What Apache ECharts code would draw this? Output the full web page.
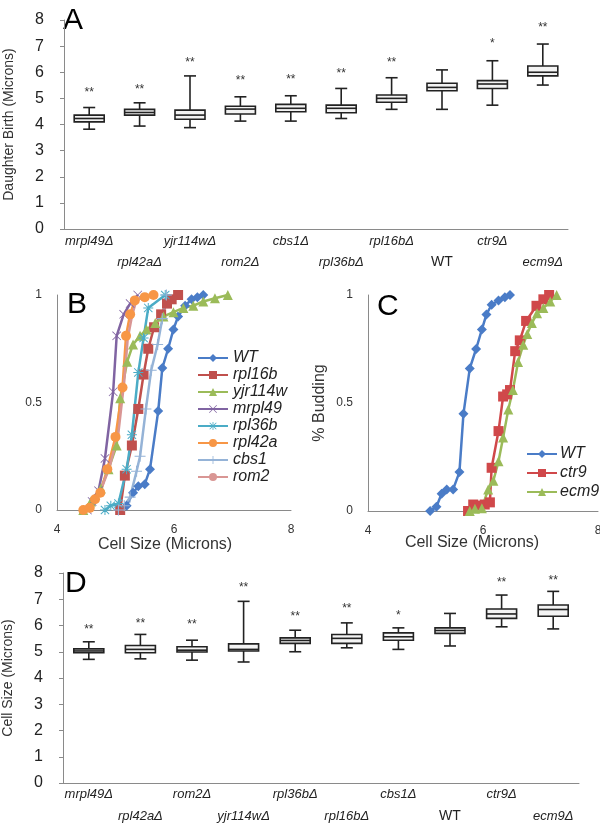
<!DOCTYPE html>
<html>
<head>
<meta charset="utf-8">
<script src="https://cdn.jsdelivr.net/npm/echarts@6/dist/echarts.min.js"></script>
<style>
  html, body { margin: 0; padding: 0; background: #fff; }
  #chart { width: 600px; height: 825px; }
</style>
</head>
<body>
<div id="chart"></div>
<script>
// --- PANEL A: daughter size at birth ---
const catsA = ["mrpl49Δ", "rpl42aΔ", "yjr114wΔ", "rom2Δ", "cbs1Δ", "rpl36bΔ", "rpl16bΔ", "WT", "ctr9Δ", "ecm9Δ"];
// [min, q1, median, q3, max]
const boxA = [
  [3.82, 4.10, 4.23, 4.36, 4.65],
  [3.94, 4.36, 4.46, 4.58, 4.83],
  [3.88, 4.20, 4.36, 4.55, 5.86],
  [4.13, 4.40, 4.59, 4.70, 5.06],
  [4.13, 4.49, 4.62, 4.77, 5.10],
  [4.23, 4.45, 4.62, 4.74, 5.38],
  [4.58, 4.85, 5.00, 5.13, 5.79],
  [4.58, 5.29, 5.42, 5.58, 6.09],
  [4.74, 5.38, 5.55, 5.68, 6.44],
  [5.51, 5.86, 6.00, 6.24, 7.08]
];
const starsA = ["**", "**", "**", "**", "**", "**", "**", "", "*", "**"];
const starYA = [5.20, 5.35, 6.37, 5.68, 5.70, 5.94, 6.37, 0, 7.08, 7.69];

// --- PANEL D: cell size at budding ---
const catsD = ["mrpl49Δ", "rpl42aΔ", "rom2Δ", "yjr114wΔ", "rpl36bΔ", "rpl16bΔ", "cbs1Δ", "WT", "ctr9Δ", "ecm9Δ"];
const boxD = [
  [4.71, 4.96, 5.03, 5.11, 5.38],
  [4.73, 4.96, 5.09, 5.24, 5.66],
  [4.68, 4.99, 5.06, 5.19, 5.44],
  [4.61, 5.03, 5.09, 5.30, 6.92],
  [5.00, 5.32, 5.43, 5.53, 5.82],
  [5.15, 5.32, 5.51, 5.66, 6.10],
  [5.09, 5.44, 5.57, 5.72, 5.91],
  [5.22, 5.70, 5.81, 5.91, 6.46],
  [5.95, 6.27, 6.44, 6.63, 7.16],
  [5.87, 6.35, 6.61, 6.78, 7.30]
];
const starsD = ["**", "**", "**", "**", "**", "**", "*", "", "**", "**"];
const starYD = [5.85, 6.08, 6.05, 7.43, 6.35, 6.63, 6.38, 0, 7.62, 7.72];

// --- PANEL B: cumulative budding vs size [size, fraction] ---
const bWT = [[5.08, 0], [5.19, 0.02], [5.30, 0.08], [5.39, 0.11], [5.50, 0.12], [5.59, 0.19], [5.73, 0.46], [5.80, 0.66], [5.90, 0.75], [5.99, 0.84], [6.07, 0.90], [6.19, 0.95], [6.30, 0.98], [6.40, 0.99], [6.50, 1.0]];
const bRpl16b = [[5.08, 0], [5.16, 0.16], [5.28, 0.30], [5.39, 0.47], [5.48, 0.63], [5.56, 0.75], [5.66, 0.85], [5.78, 0.91], [5.88, 0.96], [5.96, 0.98], [6.07, 1.0]];
const bYjr114w = [[4.45, 0], [4.58, 0.04], [4.75, 0.10], [4.88, 0.19], [5.02, 0.30], [5.08, 0.52], [5.20, 0.69], [5.30, 0.77], [5.42, 0.81], [5.53, 0.84], [5.68, 0.87], [5.82, 0.90], [5.99, 0.92], [6.16, 0.94], [6.33, 0.95], [6.50, 0.97], [6.70, 0.985], [6.92, 1.0]];
const bMrpl49 = [[4.52, 0], [4.60, 0.04], [4.71, 0.09], [4.82, 0.24], [4.96, 0.55], [5.02, 0.81], [5.14, 0.91], [5.25, 0.96], [5.38, 1.0]];
const bRpl36b = [[4.82, 0], [4.92, 0.02], [5.05, 0.03], [5.19, 0.19], [5.28, 0.35], [5.39, 0.64], [5.48, 0.80], [5.56, 0.94], [5.85, 1.0]];
const bRpl42a = [[4.45, 0], [4.56, 0.01], [4.65, 0.05], [4.74, 0.08], [4.86, 0.19], [5.00, 0.34], [5.12, 0.57], [5.18, 0.81], [5.25, 0.91], [5.33, 0.975], [5.50, 0.99], [5.65, 1.0]];
const bCbs1 = [[5.05, 0], [5.15, 0.02], [5.25, 0.06], [5.36, 0.18], [5.42, 0.25], [5.52, 0.47], [5.61, 0.65], [5.72, 0.77], [5.80, 0.89], [5.87, 1.0]];
const bRom2 = [[4.52, 0], [4.62, 0.03], [4.76, 0.10], [4.90, 0.20], [5.05, 0.36], [5.15, 0.60], [5.21, 0.80], [5.28, 0.90], [5.35, 0.97], [5.45, 0.99], [5.62, 1.0]];

// --- PANEL C ---
const cWT = [[5.08, 0], [5.19, 0.02], [5.28, 0.08], [5.37, 0.10], [5.48, 0.10], [5.59, 0.18], [5.66, 0.45], [5.77, 0.66], [5.88, 0.75], [5.98, 0.84], [6.06, 0.91], [6.15, 0.955], [6.27, 0.975], [6.38, 0.99], [6.47, 1.0]];
const cCtr9 = [[5.74, 0], [5.83, 0.03], [5.92, 0.025], [6.03, 0.03], [6.12, 0.04], [6.15, 0.20], [6.27, 0.37], [6.35, 0.53], [6.42, 0.54], [6.47, 0.56], [6.56, 0.74], [6.64, 0.79], [6.75, 0.88], [6.93, 0.95], [7.05, 0.98], [7.15, 1.0]];
const cEcm9 = [[5.77, 0], [5.86, 0.01], [5.98, 0.013], [6.09, 0.10], [6.18, 0.14], [6.27, 0.23], [6.35, 0.34], [6.44, 0.47], [6.52, 0.56], [6.61, 0.69], [6.70, 0.77], [6.77, 0.82], [6.85, 0.87], [6.94, 0.915], [7.05, 0.94], [7.17, 0.97], [7.28, 1.0]];

const FONT = "Liberation Sans, Arial, sans-serif";
const AXIS_GRAY = "#8a8a8a";

// symbol paths
const SYM_X = "path://M0.6,0L5,4.4L9.4,0L10,0.6L5.6,5L10,9.4L9.4,10L5,5.6L0.6,10L0,9.4L4.4,5L0,0.6Z";
const SYM_PLUS = "path://M4.5,0H5.5V4.5H10V5.5H5.5V10H4.5V5.5H0V4.5H4.5Z";
const SYM_STAR = "path://M4.5,0H5.5V4.5H10V5.5H5.5V10H4.5V5.5H0V4.5H4.5Z M1.2,0.5L5,4.3L8.8,0.5L9.5,1.2L5.7,5L9.5,8.8L8.8,9.5L5,5.7L1.2,9.5L0.5,8.8L4.3,5L0.5,1.2Z";

function boxRenderer(stars) {
  return function (params, api) {
    const i = api.value(0);
    const lo = api.coord([i, api.value(1)]);
    const q1 = api.coord([i, api.value(2)]);
    const md = api.coord([i, api.value(3)]);
    const q3 = api.coord([i, api.value(4)]);
    const hi = api.coord([i, api.value(5)]);
    const st = api.coord([i, api.value(6)]);
    const x = lo[0];
    const bw = 15, cw = 6;
    const ls = { stroke: "#222", lineWidth: 1.6 };
    return {
      type: "group",
      children: [
        { type: "line", shape: { x1: x, y1: hi[1], x2: x, y2: q3[1] }, style: ls },
        { type: "line", shape: { x1: x, y1: q1[1], x2: x, y2: lo[1] }, style: ls },
        { type: "line", shape: { x1: x - cw, y1: hi[1], x2: x + cw, y2: hi[1] }, style: ls },
        { type: "line", shape: { x1: x - cw, y1: lo[1], x2: x + cw, y2: lo[1] }, style: ls },
        { type: "rect", shape: { x: x - bw, y: q3[1], width: bw * 2, height: q1[1] - q3[1] },
          style: { fill: "#f3f3f3", stroke: "#222", lineWidth: 1.6 } },
        { type: "line", shape: { x1: x - bw, y1: md[1], x2: x + bw, y2: md[1] }, style: ls },
        { type: "text", x: x, y: st[1],
          style: { text: stars[params.dataIndex], fill: "#333", font: "12px " + FONT, align: "center", verticalAlign: "middle" } }
      ]
    };
  };
}

function boxData(boxes, starY) {
  return boxes.map((b, i) => [i, b[0], b[1], b[2], b[3], b[4], starY[i] || b[4]]);
}

function catAxis(cats, grid, margin, lh) {
  return {
    type: "category", gridIndex: grid, data: cats,
    axisLine: { lineStyle: { color: AXIS_GRAY } },
    axisTick: { show: false },
    axisLabel: {
      interval: 0, margin: margin, color: "#222",
      formatter: (v, i) => (i % 2 ? "{s| }\n" : "") + (v === "WT" ? "{n|" + v + "}" : "{i|" + v + "}"),
      rich: {
        s: { fontSize: 13, lineHeight: lh },
        i: { fontSize: 13, lineHeight: lh, fontStyle: "italic", fontFamily: FONT, color: "#222" },
        n: { fontSize: 14, lineHeight: lh, fontFamily: FONT, color: "#222" }
      }
    }
  };
}

function sizeAxis(grid, name) {
  return {
    type: "value", gridIndex: grid, min: 0, max: 8, interval: 1,
    name: name, nameLocation: "middle", nameGap: 48,
    nameTextStyle: { fontSize: 14, color: "#333", fontFamily: FONT },
    axisLine: { show: true, lineStyle: { color: AXIS_GRAY } },
    axisTick: { show: true, length: 4, lineStyle: { color: AXIS_GRAY } },
    splitLine: { show: false },
    axisLabel: { fontSize: 16, color: "#222", fontFamily: FONT, margin: 20 }
  };
}

function cellAxis(grid) {
  return {
    type: "value", gridIndex: grid, min: 4, max: 8, interval: 2,
    axisLine: { lineStyle: { color: AXIS_GRAY } },
    axisTick: { show: false }, splitLine: { show: false },
    axisLabel: { fontSize: 12, color: "#333", fontFamily: FONT, margin: 14 }
  };
}

function budAxis(grid, name) {
  return {
    type: "value", gridIndex: grid, min: 0, max: 1, interval: 0.5,
    name: name, nameLocation: "middle", nameGap: 40,
    nameTextStyle: { fontSize: 16, color: "#333", fontFamily: FONT },
    axisLine: { show: true, lineStyle: { color: AXIS_GRAY } },
    axisTick: { show: false }, splitLine: { show: false },
    axisLabel: { fontSize: 12, color: "#333", fontFamily: FONT, margin: 15 }
  };
}

function curve(name, data, color, symbol, size, xi) {
  return {
    name: name, type: "line", data: data, xAxisIndex: xi, yAxisIndex: xi,
    symbol: symbol, symbolSize: size, showSymbol: symbol !== "none",
    lineStyle: { color: color, width: 2.5 },
    itemStyle: { color: color, borderColor: color, borderWidth: 0 }
  };
}

const chart = echarts.init(document.getElementById("chart"));

const option = {
  animation: false,
  textStyle: { fontFamily: FONT },
  grid: [
    { left: 64, top: 20, width: 504, height: 209, outerBoundsMode: "none" },
    { left: 57, top: 295, width: 234, height: 215, outerBoundsMode: "none" },
    { left: 368, top: 295, width: 230, height: 216, outerBoundsMode: "none" },
    { left: 63, top: 573, width: 516, height: 210, outerBoundsMode: "none" }
  ],
  xAxis: [
    catAxis(catsA, 0, 2, 21),
    cellAxis(1),
    cellAxis(2),
    catAxis(catsD, 3, 0, 22)
  ],
  yAxis: [
    sizeAxis(0, "Daughter Birth (Microns)"),
    budAxis(1, ""),
    budAxis(2, "% Budding"),
    sizeAxis(3, "Cell Size (Microns)")
  ],
  legend: [
    {
      orient: "vertical", left: 192, top: 345, itemWidth: 30, itemHeight: 10, itemGap: 1,
      data: ["WT", "rpl16b", "yjr114w", "mrpl49", "rpl36b", "rpl42a", "cbs1", "rom2"],
      textStyle: { fontSize: 16, fontStyle: "italic", color: "#222", lineHeight: 15 }
    },
    {
      orient: "vertical", left: 521, top: 441, itemWidth: 30, itemHeight: 10, itemGap: 3,
      data: ["WT (C)", "ctr9", "ecm9"],
      formatter: (n) => n.replace(" (C)", ""),
      textStyle: { fontSize: 16, fontStyle: "italic", color: "#222", lineHeight: 16, padding: [0, 0, 0, -2] }
    }
  ],
  series: [
    { type: "custom", xAxisIndex: 0, yAxisIndex: 0, renderItem: boxRenderer(starsA),
      data: boxData(boxA, starYA), encode: { x: 0, y: [1, 2, 3, 4, 5] } },
    { type: "custom", xAxisIndex: 3, yAxisIndex: 3, renderItem: boxRenderer(starsD),
      data: boxData(boxD, starYD), encode: { x: 0, y: [1, 2, 3, 4, 5] } },
    curve("WT", bWT, "#4a7cc7", "diamond", 10, 1),
    curve("rpl16b", bRpl16b, "#c0504d", "rect", 10, 1),
    curve("yjr114w", bYjr114w, "#9bbb59", "triangle", 10, 1),
    curve("mrpl49", bMrpl49, "#8064a2", SYM_X, 9, 1),
    curve("rpl36b", bRpl36b, "#4bacc6", SYM_STAR, 10, 1),
    curve("rpl42a", bRpl42a, "#f79646", "circle", 10, 1),
    curve("cbs1", bCbs1, "#95b3d7", SYM_PLUS, 11, 1),
    curve("rom2", bRom2, "#d99694", "none", 0, 1),
    curve("WT (C)", cWT, "#4a7cc7", "diamond", 10, 2),
    curve("ctr9", cCtr9, "#d0484a", "rect", 10, 2),
    curve("ecm9", cEcm9, "#9bbb59", "triangle", 10, 2)
  ],
  graphic: [
    { type: "text", left: 63, top: 6, style: { text: "A", font: "30px " + FONT, fill: "#000" } },
    { type: "text", left: 67, top: 290, style: { text: "B", font: "30px " + FONT, fill: "#000" } },
    { type: "text", left: 377, top: 292, style: { text: "C", font: "30px " + FONT, fill: "#000" } },
    { type: "text", left: 65, top: 569, style: { text: "D", font: "30px " + FONT, fill: "#000" } },
    { type: "text", x: 165, y: 545, style: { text: "Cell Size (Microns)", font: "16px " + FONT, fill: "#333", align: "center", verticalAlign: "middle" } },
    { type: "text", x: 472, y: 543, style: { text: "Cell Size (Microns)", font: "16px " + FONT, fill: "#333", align: "center", verticalAlign: "middle" } }
  ]
};

chart.setOption(option);
</script>
</body>
</html>
